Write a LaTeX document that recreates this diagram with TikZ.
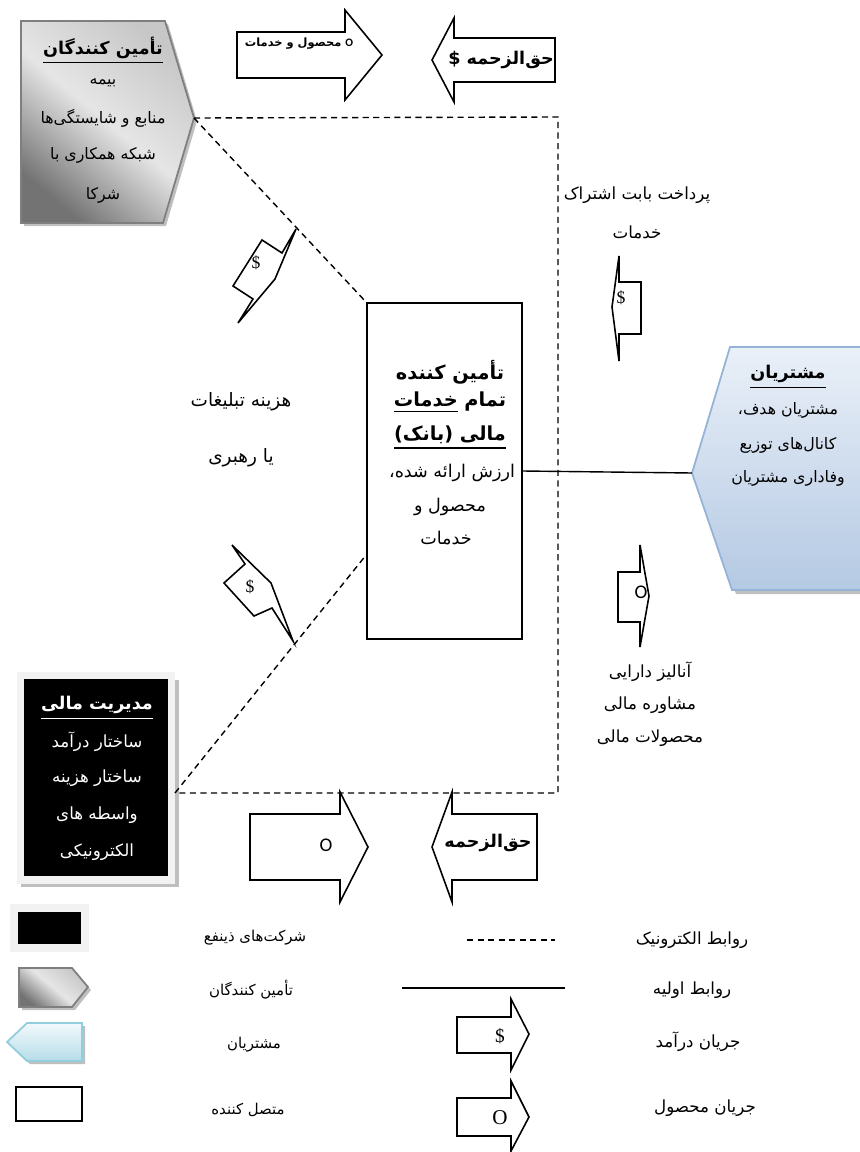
\documentclass[tikz,border=0pt]{standalone}
\usepackage{fontspec}
\usetikzlibrary{positioning}
\setmainfont{Liberation Serif}
\newfontfamily\fa[Script=Arabic]{DejaVu Sans}
\newfontfamily\calfont{Carlito}
\TeXXeTstate=1
\newcommand{\fatext}[1]{\beginR #1\endR}
\newcommand{\thickul}[1]{\vtop{\hbox{#1}\kern2pt\hrule height 0.9pt}}
\definecolor{supedge}{HTML}{7F7F7F}
\definecolor{custedge}{HTML}{95B3D7}
\definecolor{custtop}{HTML}{EAF0F8}
\definecolor{custbot}{HTML}{B4C9E3}
\definecolor{legedge}{HTML}{92CDDC}
\definecolor{legtop}{HTML}{F2F9FB}
\definecolor{legbot}{HTML}{B6DDE8}
\definecolor{boxframe}{HTML}{F2F2F2}
\definecolor{shadowgray}{HTML}{BFBFBF}

\tikzset{
  elink/.style={line width=0.8pt, dash pattern=on 3.5pt off 2.5pt},
  plink/.style={line width=0.8pt},
  flow/.style={draw, line width=0.9pt, fill=white},
  lbl/.style={inner sep=1pt, font=\fa\fontsize{9.5}{11}\selectfont},
  keytxt/.style={inner sep=1pt, font=\fa\fontsize{8.5}{10}\selectfont},
  hdr/.style={inner sep=1pt, font=\fa\bfseries\fontsize{10}{12}\selectfont},
  bighdr/.style={inner sep=1pt, font=\fa\bfseries\fontsize{11}{13}\selectfont},
  grayshade/.style={draw=supedge, line width=1pt, top color=black!22, bottom color=black!55, middle color=black!10, shading angle=-40},
}

\begin{document}
\begin{tikzpicture}[x=0.02cm, y=-0.02cm]
    \useasboundingbox (0,0) rectangle (859,1152);

    % suppliers
    \fill[shadowgray] (24,24) -- (168,24) -- (197,121) -- (166,226) -- (24,226) -- cycle;
    \shade[grayshade] (21,21) -- (165,21) -- (194,118) -- (163,223) -- (21,223) -- cycle;
    \coordinate (suptip) at (194,118);
    \node[hdr] (supTitle) at (103,50) {\thickul{\fatext{تأمین کنندگان}}};
    \node[lbl, font=\fa\fontsize{9}{11}\selectfont] (sup1) at (103,83) {\fatext{بیمه}};
    \node[lbl, font=\fa\fontsize{9}{11}\selectfont] (sup2) at (103,118) {\fatext{منابع و شایستگی^^^^200cها}};
    \node[lbl, font=\fa\fontsize{9}{11}\selectfont] (sup3) at (103,155) {\fatext{شبکه همکاری با}};
    \node[lbl, font=\fa\fontsize{9}{11}\selectfont] (sup4) at (103,195) {\fatext{شرکا}};

    % customers
    \fill[shadowgray] (734,351) -- (874,351) -- (874,594) -- (736,594) -- (696,477) -- cycle;
    \shade[draw=custedge, line width=1pt, top color=custtop, bottom color=custbot] (730,347) -- (870,347) -- (870,590) -- (732,590) -- (692,473) -- cycle;
    \coordinate (custtip) at (692,473);
    \node[hdr] (custTitle) at (788,377) {\thickul{\fatext{مشتریان}}};
    \node[lbl, font=\fa\fontsize{9}{11}\selectfont] (cust1) at (788,410) {\fatext{مشتریان هدف،}};
    \node[lbl, font=\fa\fontsize{9}{11}\selectfont] (cust2) at (788,445) {\fatext{کانال^^^^200cهای توزیع}};
    \node[lbl, font=\fa\fontsize{9}{11}\selectfont] (cust3) at (788,478) {\fatext{وفاداری مشتریان}};

    % bank
    \node[draw, line width=1pt, minimum width=3.1cm, minimum height=6.72cm] (bank) at (444.5,471) {};
    \node[bighdr] (bank1) at (450,372) {\fatext{تأمین کننده}};
    \node[bighdr] (bank2) at (450,402) {\fatext{تمام \thickul{خدمات}}};
    \node[bighdr] (bank3) at (450,437) {\thickul{\fatext{مالی (بانک)}}};
    \node[lbl, font=\fa\fontsize{10}{12}\selectfont] (bank4) at (452,473) {\fatext{ارزش ارائه شده،}};
    \node[lbl, font=\fa\fontsize{10}{12}\selectfont] (bank5) at (450,507) {\fatext{محصول و}};
    \node[lbl, font=\fa\fontsize{10}{12}\selectfont] (bank6) at (446,538) {\fatext{خدمات}};

    % financial management
    \fill[shadowgray] (21,680) rectangle (179,887);
    \node[fill=black, draw=boxframe, line width=4pt, minimum width=3.02cm, minimum height=4.1cm] (fin) at (96,777.5) {};
    \node[hdr, text=white] (finTitle) at (97,708) {\thickul{\fatext{مدیریت مالی}}};
    \node[lbl, text=white] (fin1) at (97,742) {\fatext{ساختار درآمد}};
    \node[lbl, text=white] (fin2) at (97,778) {\fatext{ساختار هزینه}};
    \node[lbl, text=white] (fin3) at (97,815) {\fatext{واسطه های}};
    \node[lbl, text=white] (fin4) at (97,852) {\fatext{الکترونیکی}};

    % links
    \coordinate (ne) at (558,117);
    \coordinate (se) at (558,793);
    \coordinate (finport) at (fin.east |- se);
    \coordinate (bankport) at (bank.west |- 0,555);
    \draw[elink] (suptip) -- (bank.north west);
    \draw[elink] (suptip) -- (ne) -- (se) -- (finport);
    \draw[elink] (finport) -- (bankport);
    \draw[plink] (bank.east) -- (custtip);

    % flows
    \draw[flow] (237,32) -- (345,32) -- (345,10) -- (382,55) -- (345,100) -- (345,78) -- (237,78) -- cycle;
    \node[font=\fa\bfseries\fontsize{6.5}{7}\selectfont] (prodTop) at (299,44) {\fatext{{\calfont O} محصول و خدمات}};
    \draw[flow] (555,38) -- (454,38) -- (454,18) -- (432,60) -- (454,102) -- (454,82) -- (555,82) -- cycle;
    \node[hdr] (feeTop) at (501,60) {\fatext{حق^^^^200cالزحمه \$}};

    \draw[flow] (296,229) -- (275,279) -- (238,323) -- (253,299) -- (233,286) -- (262,240) -- (282,253) -- cycle;
    \node[font=\fontsize{10}{12}\selectfont] (payUp) at (256,263) {\$};
    \draw[flow] (232,545) -- (271,583) -- (293,641) -- (272,608) -- (254,616) -- (224,583) -- (245,564) -- cycle;
    \node[font=\fontsize{10}{12}\selectfont] (payLow) at (250,587) {\$};

    \node[lbl, font=\fa\fontsize{10.5}{12}\selectfont] (adv1) at (241,402) {\fatext{هزینه تبلیغات}};
    \node[lbl, font=\fa\fontsize{10.5}{12}\selectfont] (adv2) at (241,458) {\fatext{یا رهبری}};

    \draw[flow] (619,256) -- (612,307) -- (619,361) -- (619,334) -- (641,334) -- (641,282) -- (619,282) -- cycle;
    \node[font=\fontsize{10}{12}\selectfont] (subPay) at (621,298) {\$};
    \node[lbl] (sub1) at (637,195) {\fatext{پرداخت بابت اشتراک}};
    \node[lbl] (sub2) at (637,232) {\fatext{خدمات}};

    \draw[flow] (640,545) -- (649,596) -- (640,647) -- (640,622) -- (618,622) -- (618,572) -- (640,572) -- cycle;
    \node[font=\calfont\fontsize{11}{13}\selectfont] (svc) at (641,592) {O};
    \node[lbl] (svc1) at (650,672) {\fatext{آنالیز دارایی}};
    \node[lbl] (svc2) at (650,705) {\fatext{مشاوره مالی}};
    \node[lbl] (svc3) at (650,738) {\fatext{محصولات مالی}};

    \draw[flow] (250,814) -- (340,814) -- (340,792) -- (368,847) -- (340,902) -- (340,880) -- (250,880) -- cycle;
    \node[font=\calfont\fontsize{11}{13}\selectfont] (prodBot) at (326,845) {O};
    \draw[flow] (537,814) -- (452,814) -- (452,792) -- (432,847) -- (452,902) -- (452,880) -- (537,880) -- cycle;
    \node[hdr] (feeBot) at (488,843) {\fatext{حق^^^^200cالزحمه}};

    % legend
    \node[fill=black, draw=boxframe, line width=4.5pt, minimum width=1.42cm, minimum height=0.8cm] (keyFirm) at (49.5,928) {};
    \node[keytxt] (keyFirmTxt) at (255,938) {\fatext{شرکت^^^^200cهای ذینفع}};
    \fill[shadowgray] (22,971) -- (75,971) -- (91,990) -- (75,1010) -- (22,1010) -- cycle;
    \shade[grayshade] (19,968) -- (72,968) -- (88,987) -- (72,1007) -- (19,1007) -- cycle;
    \node[keytxt] (keySupTxt) at (251,990) {\fatext{تأمین کنندگان}};
    \fill[shadowgray] (10,1045) -- (30,1026) -- (85,1026) -- (85,1064) -- (30,1064) -- cycle;
    \shade[draw=legedge, line width=1pt, top color=legtop, bottom color=legbot] (7,1042) -- (27,1023) -- (82,1023) -- (82,1061) -- (27,1061) -- cycle;
    \node[keytxt] (keyCustTxt) at (254,1045) {\fatext{مشتریان}};
    \node[draw, line width=0.9pt, minimum width=1.32cm, minimum height=0.68cm] (keyLink) at (49,1104) {};
    \node[keytxt] (keyLinkTxt) at (248,1110) {\fatext{متصل کننده}};

    \coordinate (eA) at (467,940);
    \coordinate (eB) at (555,940);
    \draw[elink] (eA) -- (eB);
    \node[keytxt, font=\fa\fontsize{9.5}{11}\selectfont] (keyETxt) at (692,940) {\fatext{روابط الکترونیک}};
    \coordinate (pA) at (402,988);
    \coordinate (pB) at (565,988);
    \draw[plink] (pA) -- (pB);
    \node[keytxt, font=\fa\fontsize{9.5}{11}\selectfont] (keyPTxt) at (692,990) {\fatext{روابط اولیه}};
    \draw[flow] (457,1017) -- (511,1017) -- (511,999) -- (529,1034) -- (511,1070) -- (511,1053) -- (457,1053) -- cycle;
    \node[font=\fontsize{11}{13}\selectfont] (keyRev) at (500,1036) {\$};
    \node[keytxt, font=\fa\fontsize{9.5}{11}\selectfont] (keyRevTxt) at (698,1042) {\fatext{جریان درآمد}};
    \draw[flow] (457,1098) -- (511,1098) -- (511,1081) -- (529,1117) -- (511,1151) -- (511,1136) -- (457,1136) -- cycle;
    \node[font=\fontsize{12}{14}\selectfont] (keyProd) at (500,1118) {O};
    \node[keytxt, font=\fa\fontsize{9.5}{11}\selectfont] (keyProdTxt) at (705,1108) {\fatext{جریان محصول}};
\end{tikzpicture}
\end{document}
